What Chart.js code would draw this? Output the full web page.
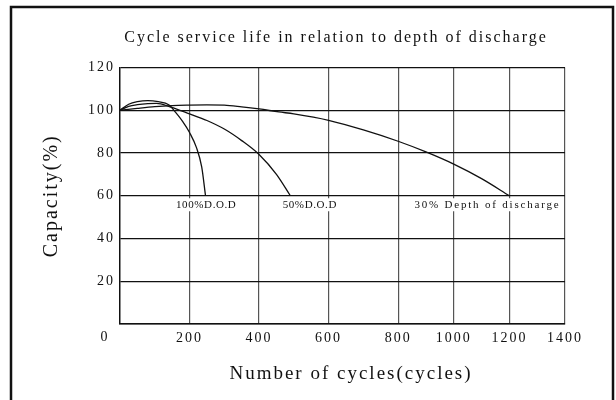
<!DOCTYPE html>
<html>
<head>
<meta charset="utf-8">
<script src="https://cdn.jsdelivr.net/npm/chart.js@4.4.0/dist/chart.umd.min.js"></script>
<style>
  html, body { margin: 0; padding: 0; background: #fff; }
  #wrap { width: 616px; height: 400px; }
</style>
</head>
<body>
<div id="wrap"><canvas id="life"></canvas></div>
<script>
// values: cycles on x, capacity (%) on y
const dod100Cycles   = [0, 25, 50, 80, 110, 140, 160, 180, 200, 220, 235, 246];
const dod100Capacity = [100, 102.8, 104, 104.5, 104, 102.6, 99, 94.8, 89.6, 82.5, 73.5, 60];

const dod50Cycles   = [0, 25, 50, 80, 105, 144, 200, 250, 300, 350, 400, 450, 490];
const dod50Capacity = [100, 101.8, 102.6, 103.1, 103.2, 101.6, 98.3, 95.2, 91.2, 85.8, 79.3, 70, 60];

const dod30Cycles   = [0, 50, 100, 150, 200, 250, 300, 350, 400, 457, 500, 600, 700, 800, 900, 1000, 1100, 1200];
const dod30Capacity = [100, 100.9, 101.7, 102.2, 102.4, 102.5, 102.4, 101.6, 100.6, 99.2, 98.3, 95.3, 90.8, 85.5, 80.5, 74.8, 68, 60];

const xTicks = [0, 200, 400, 600, 800, 1000, 1200, 1400];
const yTicks = [0, 20, 40, 60, 80, 100, 120];

const noteTexts  = ["100%D.O.D", "50%D.O.D", "30% Depth of discharge"];
const noteCycles = [248, 546, 1121];

const titleText = "Cycle service life in relation to depth of discharge";
const xTitle = "Number of cycles(cycles)";
const yTitle = "Capacity(%)";

const FONT = "'Liberation Serif', 'DejaVu Serif', serif";

// x axis in the picture: cells up to 800 are wider than cells after it (5:4)
function cycleFrac(v) {
  if (v <= 800) return (v / 200 * 5) / 32;
  return (20 + (v - 800) / 200 * 4) / 32;
}
function fracCycle(f) {
  const u = f * 32;
  if (u <= 20) return u / 5 * 200;
  return 800 + (u - 20) / 4 * 200;
}

class CycleScale extends Chart.LinearScale {
  getPixelForValue(value) {
    return this.getPixelForDecimal(cycleFrac(value));
  }
  getValueForPixel(pixel) {
    return fracCycle(this.getDecimalForPixel(pixel));
  }
}
CycleScale.id = 'cycles';
CycleScale.defaults = Chart.LinearScale.defaults;
Chart.register(CycleScale);

function pts(xs, ys) {
  return xs.map((c, i) => ({x: c, y: ys[i]}));
}

function curve(label, xs, ys) {
  return {
    label: label,
    data: pts(xs, ys),
    borderColor: "#111",
    borderWidth: 1.3,
    pointRadius: 0,
    fill: false,
    cubicInterpolationMode: "monotone"
  };
}

const decor = {
  id: "decor",
  beforeDraw(chart) {
    const ctx = chart.ctx;
    ctx.save();
    ctx.fillStyle = "#fff";
    ctx.fillRect(0, 0, chart.width, chart.height);
    ctx.lineWidth = 2.5;
    ctx.strokeStyle = "#111";
    ctx.strokeRect(11, 7, 602, 420);
    ctx.restore();
    ctx.letterSpacing = "2px";
  },
  afterDraw(chart) {
    const ctx = chart.ctx;
    const x = chart.scales.x, y = chart.scales.y;
    ctx.save();
    ctx.fillStyle = "#111";
    ctx.textBaseline = "middle";
    ctx.textAlign = "center";

    // curve labels, on white so the grid breaks behind them
    const base = y.getPixelForValue(60);
    noteTexts.forEach((t, i) => {
      ctx.font = "11px " + FONT;
      ctx.letterSpacing = i === 2 ? "1.8px" : "0.6px";
      const w = ctx.measureText(t).width;
      const cx = x.getPixelForValue(noteCycles[i]);
      ctx.fillStyle = "#fff";
      ctx.fillRect(cx - w / 2 - 2, base + 2.5, w + 4, 13);
      ctx.fillStyle = "#111";
      ctx.fillText(t, cx, base + 9.5);
    });

    ctx.letterSpacing = "2px";
    ctx.font = "16px " + FONT;
    ctx.fillText(titleText, 336, 38);

    ctx.font = "19px " + FONT;
    ctx.fillText(xTitle, 351, 374);

    ctx.font = "14px " + FONT;
    ctx.fillText("0", 105, 337);

    ctx.translate(52, (chart.chartArea.top + chart.chartArea.bottom) / 2);
    ctx.rotate(-Math.PI / 2);
    ctx.font = "20px " + FONT;
    ctx.fillText(yTitle, 0, 0);
    ctx.restore();
  }
};

const ctx = document.getElementById("life");
new Chart(ctx, {
  type: "line",
  data: {
    datasets: [
      curve("100%D.O.D", dod100Cycles, dod100Capacity),
      curve("50%D.O.D", dod50Cycles, dod50Capacity),
      curve("30% Depth of discharge", dod30Cycles, dod30Capacity)
    ]
  },
  plugins: [decor],
  options: {
    responsive: true,
    maintainAspectRatio: false,
    animation: false,
    layout: {padding: {top: 67.5, right: 51, left: 0, bottom: 0}},
    plugins: {
      legend: {display: false},
      tooltip: {enabled: false},
      title: {display: false}
    },
    scales: {
      x: {
        type: "cycles",
        min: 0,
        max: 1400,
        afterBuildTicks: (s) => { s.ticks = xTicks.map(v => ({value: v})); },
        afterFit: (s) => { s.height = 76; },
        grid: {color: "#555", lineWidth: 1.2, drawTicks: false},
        border: {color: "#111", width: 1.4},
        ticks: {
          color: "#111",
          padding: 6,
          maxRotation: 0,
          font: {family: FONT, size: 14},
          callback: (v) => v === 0 ? "" : String(v)
        }
      },
      y: {
        min: 0,
        max: 120,
        afterBuildTicks: (s) => { s.ticks = yTicks.map(v => ({value: v})); },
        afterFit: (s) => { s.width = 120; },
        grid: {color: "#111", lineWidth: 1.3, drawTicks: false},
        border: {color: "#111", width: 1.4},
        ticks: {
          color: "#111",
          padding: 5,
          font: {family: FONT, size: 14},
          callback: (v) => v === 0 ? "" : String(v)
        }
      }
    }
  }
});
</script>
</body>
</html>
